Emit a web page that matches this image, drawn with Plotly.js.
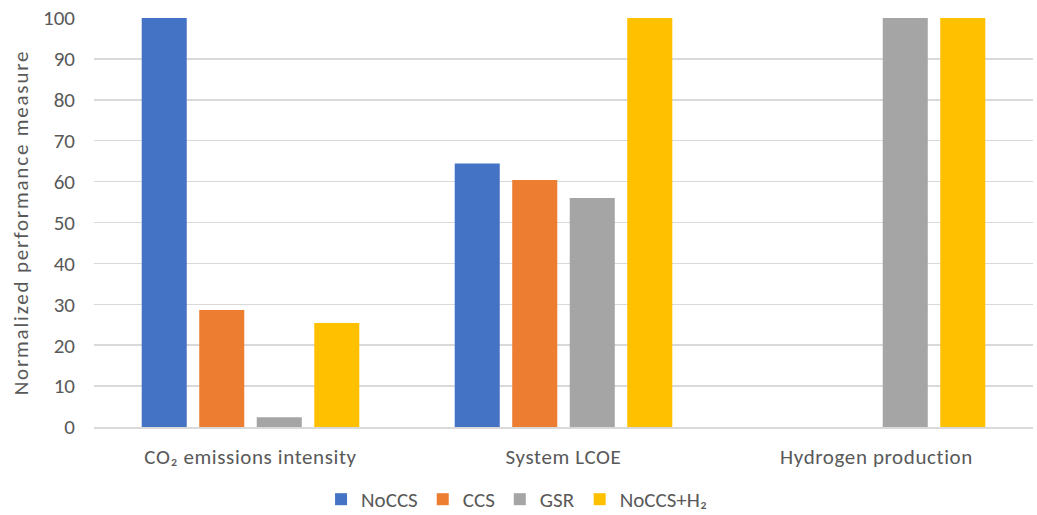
<!DOCTYPE html>
<html><head><meta charset="utf-8">
<script src="https://cdn.plot.ly/plotly-3.0.1.min.js"></script>
<style>body{margin:0;background:#fff}#c{width:1037px;height:515px}
#c .ytitle{letter-spacing:1.8px}
#c .xtick text{letter-spacing:0.6px}
</style>
</head><body><div id="c"></div>
<script>
const categories = ["CO₂ emissions intensity", "System LCOE", "Hydrogen production"];
const seriesNames = ["NoCCS", "CCS", "GSR", "NoCCS+H₂"];
const noCCS = [100, 64.4, 0];
const ccs = [28.6, 60.4, 0];
const gsr = [2.4, 56.0, 100];
const noCCSH2 = [25.4, 100, 100];
const yTicks = [0, 10, 20, 30, 40, 50, 60, 70, 80, 90, 100];

const colors = ["#4472C4", "#ED7D31", "#A5A5A5", "#FFC000"];
const values = [noCCS, ccs, gsr, noCCSH2];
const data = seriesNames.map((n, i) => ({
  type: "bar", name: n, x: categories, y: values[i],
  marker: {color: colors[i]}, hoverinfo: "x+y+name"
}));
const fam = "Carlito, Calibri, Lato, 'Open Sans', sans-serif";
const txt = "#595959";
Plotly.newPlot("c", data, {
  width: 1037, height: 515,
  margin: {l: 94, r: 4, t: 18, b: 88},
  paper_bgcolor: "#fff", plot_bgcolor: "#fff",
  font: {family: fam, size: 21, color: txt},
  barmode: "group", bargap: 0.265, bargroupgap: 0.217,
  xaxis: {showgrid: false, showline: true, linecolor: "#d9d9d9", linewidth: 1.5,
    tickfont: {family: fam, size: 21, color: txt}, ticks: "", ticklen: 0,
    ticklabelstandoff: 10, automargin: false},
  yaxis: {range: [0, 100], tickvals: yTicks, showgrid: true, gridcolor: "#d9d9d9", gridwidth: 1.5,
    zeroline: false, tickfont: {family: fam, size: 21, color: txt}, ticklabelstandoff: 18,
    title: {text: "Normalized performance measure", font: {family: fam, size: 21, color: txt}, standoff: 8},
    automargin: false},
  showlegend: true,
  legend: {orientation: "h", x: 0.45, xanchor: "center", yref: "container", y: 0.03, yanchor: "middle",
    font: {family: fam, size: 21, color: txt}, itemwidth: 30, traceorder: "normal"}
}, {displayModeBar: false, staticPlot: true});
</script></body></html>
